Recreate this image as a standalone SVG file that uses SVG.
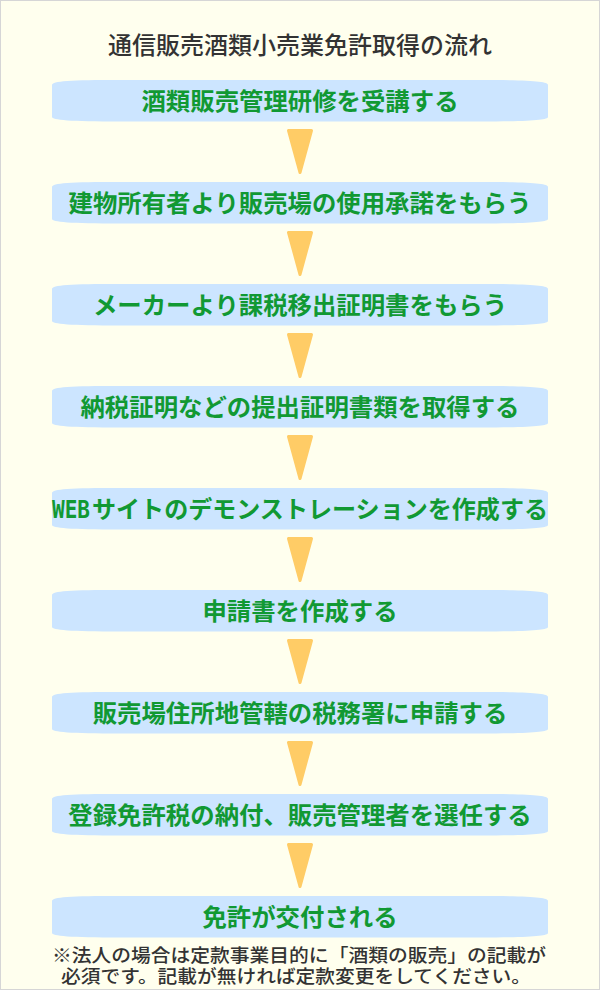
<svg xmlns="http://www.w3.org/2000/svg" width="600" height="990" viewBox="0 0 600 990">
<defs>
<style>
.bg{fill:#FFFFEE;stroke:#d6d6d6;stroke-width:1}
.box{fill:#CCE5FF}
.arr{fill:#FFCC66;stroke:#FFCC66;stroke-width:3;stroke-linejoin:round}
.lbl{font-family:"Noto Sans CJK JP","Noto Sans",sans-serif;font-weight:700;font-size:24.4px;fill:#119933;text-anchor:middle}
.title{font-family:"Noto Sans CJK JP","Noto Sans",sans-serif;font-weight:500;font-size:24px;fill:#333333;text-anchor:middle}
.note{font-family:"Liberation Sans","Noto Sans CJK JP",sans-serif;font-weight:500;font-size:18.5px;fill:#333333}
</style>
<path id="shape" d="M52,85 C52,81 70,80 120,80 L480,80 C530,80 548,81 548,85 L548,117 C548,120 530,121.5 480,121.5 L120,121.5 C70,121.5 52,120 52,117 Z"/>
</defs>
<rect class="bg" x="0.5" y="0.5" width="599" height="989"/>
<g id="title"><text class="title" x="300" y="54">通信販売酒類小売業免許取得の流れ</text></g>
<g id="connectors">
<polygon class="arr" points="288.5,130.5 311.5,130.5 300,172.5"/>
<polygon class="arr" points="288.5,232.5 311.5,232.5 300,274.5"/>
<polygon class="arr" points="288.5,334.5 311.5,334.5 300,376.5"/>
<polygon class="arr" points="288.5,436.5 311.5,436.5 300,478.5"/>
<polygon class="arr" points="288.5,538.5 311.5,538.5 300,580.5"/>
<polygon class="arr" points="288.5,640.5 311.5,640.5 300,682.5"/>
<polygon class="arr" points="288.5,742.5 311.5,742.5 300,784.5"/>
<polygon class="arr" points="288.5,844.5 311.5,844.5 300,886.5"/>
</g>
<g id="n1"><use href="#shape" class="box"/><text class="lbl" x="300" y="110">酒類販売管理研修を受講する</text></g>
<g id="n2"><use href="#shape" class="box" y="102"/><text class="lbl" x="300" y="212">建物所有者より販売場の使用承諾をもらう</text></g>
<g id="n3"><use href="#shape" class="box" y="204"/><text class="lbl" x="300" y="314">メーカーより課税移出証明書をもらう</text></g>
<g id="n4"><use href="#shape" class="box" y="306"/><text class="lbl" x="300" y="416">納税証明などの提出証明書類を取得する</text></g>
<g id="n5"><use href="#shape" class="box" y="408"/><text x="52" y="518" textLength="38" lengthAdjust="spacingAndGlyphs" style="font-family:'DejaVu Sans Mono',monospace;font-weight:700;font-size:24px;fill:#119933">WEB</text><text x="92" y="518" textLength="456" lengthAdjust="spacingAndGlyphs" style="font-family:'Noto Sans CJK JP',sans-serif;font-weight:700;font-size:24px;fill:#119933">サイトのデモンストレーションを作成する</text></g>
<g id="n6"><use href="#shape" class="box" y="510"/><text class="lbl" x="300" y="620">申請書を作成する</text></g>
<g id="n7"><use href="#shape" class="box" y="612"/><text class="lbl" x="300" y="722">販売場住所地管轄の税務署に申請する</text></g>
<g id="n8"><use href="#shape" class="box" y="714"/><text class="lbl" x="300" y="824">登録免許税の納付、販売管理者を選任する</text></g>
<g id="n9"><use href="#shape" class="box" y="816"/><text class="lbl" x="300" y="926">免許が交付される</text></g>
<g id="note">
<text class="note" x="52" y="962" textLength="494" lengthAdjust="spacingAndGlyphs">※法人の場合は定款事業目的に「酒類の販売」の記載が</text>
<text class="note" x="61" y="983" textLength="470" lengthAdjust="spacingAndGlyphs">必須です。記載が無ければ定款変更をしてください。</text>
</g>
</svg>
